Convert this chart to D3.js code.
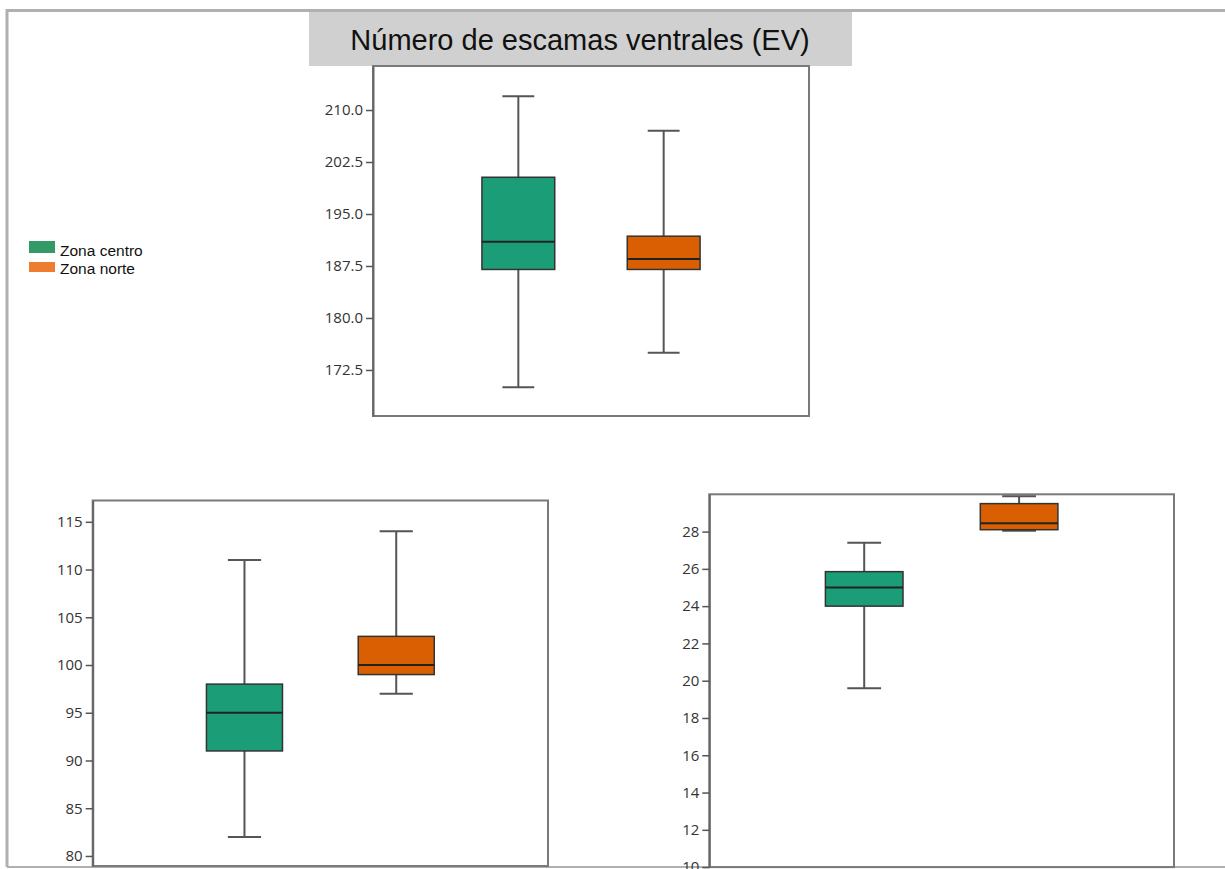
<!DOCTYPE html>
<html><head><meta charset="utf-8">
<script src="https://cdn.jsdelivr.net/npm/d3@7"></script>
<style>html,body{margin:0;padding:0;background:#fff;overflow:hidden}</style>
</head><body>
<svg id="chart" width="1225" height="869"></svg>
<script>
// ---- data ----
const categories = ["Zona centro", "Zona norte"];
const title = "Número de escamas ventrales (EV)";

// panel 1: EV
const evMin    = [170, 175];
const evQ1     = [187, 187];
const evMedian = [191, 188.5];
const evQ3     = [200.3, 191.8];
const evMax    = [212, 207];
const evTicks  = [172.5, 180.0, 187.5, 195.0, 202.5, 210.0];

// panel 2 (bottom left)
const p2Min    = [82, 97];
const p2Q1     = [91, 99];
const p2Median = [95, 100];
const p2Q3     = [98, 103];
const p2Max    = [111, 114];
const p2Ticks  = [80, 85, 90, 95, 100, 105, 110, 115];

// panel 3 (bottom right)
const p3Min    = [19.6, 28.05];
const p3Q1     = [24, 28.1];
const p3Median = [25, 28.45];
const p3Q3     = [25.85, 29.5];
const p3Max    = [27.4, 29.9];
const p3Ticks  = [10, 12, 14, 16, 18, 20, 22, 24, 26, 28];

// ---- styling / layout ----
const boxColors = ["#1b9e77", "#d95f02"];
const legendColors = ["#339966", "#ED7D31"];

const svg = d3.select("#chart");

// outer frame
svg.append("line").attr("x1", 7).attr("x2", 1225).attr("y1", 10.5).attr("y2", 10.5)
  .attr("stroke", "#b0b0b0").attr("stroke-width", 3);
svg.append("line").attr("x1", 7).attr("x2", 7).attr("y1", 9).attr("y2", 867)
  .attr("stroke", "#b0b0b0").attr("stroke-width", 3);
svg.append("line").attr("x1", 7).attr("x2", 1225).attr("y1", 867).attr("y2", 867)
  .attr("stroke", "#b0b0b0").attr("stroke-width", 2);

// title box
svg.append("rect").attr("x", 309).attr("y", 12).attr("width", 543).attr("height", 54)
  .attr("fill", "#d0d0d0");
svg.append("text").attr("x", 580).attr("y", 50).attr("text-anchor", "middle")
  .attr("font-family", "Liberation Sans, Arial, sans-serif").attr("font-size", 29)
  .attr("fill", "#111").text(title);

// legend
categories.forEach((c, i) => {
  svg.append("rect").attr("x", 29).attr("y", 241 + i * 21).attr("width", 26).attr("height", i === 0 ? 12 : 10)
    .attr("fill", legendColors[i]);
  svg.append("text").attr("x", 60).attr("y", 256 + i * 18)
    .attr("font-family", "Liberation Sans, Arial, sans-serif").attr("font-size", 15.5)
    .attr("fill", "#111").text(c);
});

function panel(cfg) {
  const {x0, x1, y0, y1, domain, ticks, fmt, mins, q1s, meds, q3s, maxs} = cfg;
  const g = svg.append("g");
  const y = d3.scaleLinear().domain(domain).range([y1, y0]);
  const x = d3.scalePoint().domain(categories).range([x0, x1]).padding(1);
  const w = x1 - x0;
  const bw = w * 0.167;
  const cw = bw * 0.41;

  const clipId = "clip" + Math.round(x0);
  svg.append("clipPath").attr("id", clipId).append("rect")
    .attr("x", x0).attr("y", y0).attr("width", w).attr("height", y1 - y0);

  // frame
  g.append("rect").attr("x", x0).attr("y", y0).attr("width", w).attr("height", y1 - y0)
    .attr("fill", "none").attr("stroke", "#7a7a7a").attr("stroke-width", 2);

  // axis
  const ax = g.append("g").attr("transform", `translate(${x0},0)`)
    .call(d3.axisLeft(y).tickValues(ticks).tickFormat(d3.format(fmt)).tickSize(7).tickSizeOuter(0).tickPadding(3));
  ax.select(".domain").attr("stroke", "#666").attr("stroke-width", 2);
  ax.selectAll(".tick line").attr("stroke", "#555").attr("stroke-width", 1.5);
  ax.selectAll(".tick text").attr("font-family", "Open Sans, sans-serif").attr("font-size", 15)
    .attr("fill", "#333");

  const bg = g.append("g").attr("clip-path", `url(#${clipId})`);
  categories.forEach((c, i) => {
    const cx = x(c);
    // whiskers
    bg.append("line").attr("x1", cx).attr("x2", cx).attr("y1", y(maxs[i])).attr("y2", y(q3s[i]))
      .attr("stroke", "#555").attr("stroke-width", 2);
    bg.append("line").attr("x1", cx).attr("x2", cx).attr("y1", y(q1s[i])).attr("y2", y(mins[i]))
      .attr("stroke", "#555").attr("stroke-width", 2);
    // caps
    [maxs[i], mins[i]].forEach(v => {
      bg.append("line").attr("x1", cx - cw / 2 - 1).attr("x2", cx + cw / 2 + 1).attr("y1", y(v)).attr("y2", y(v))
        .attr("stroke", "#555").attr("stroke-width", 2);
    });
    // box
    bg.append("rect").attr("x", cx - bw / 2).attr("y", y(q3s[i])).attr("width", bw)
      .attr("height", y(q1s[i]) - y(q3s[i]))
      .attr("fill", boxColors[i]).attr("stroke", "#333").attr("stroke-width", 1.5);
    // median
    bg.append("line").attr("x1", cx - bw / 2).attr("x2", cx + bw / 2).attr("y1", y(meds[i])).attr("y2", y(meds[i]))
      .attr("stroke", "#222").attr("stroke-width", 2);
  });
}

panel({x0: 373, x1: 809, y0: 66, y1: 416, domain: [165.86, 216.35], ticks: evTicks, fmt: ".1f",
  mins: evMin, q1s: evQ1, meds: evMedian, q3s: evQ3, maxs: evMax});
panel({x0: 92.7, x1: 548, y0: 500.5, y1: 866, domain: [78.95, 117.23], ticks: p2Ticks, fmt: "d",
  mins: p2Min, q1s: p2Q1, meds: p2Median, q3s: p2Q3, maxs: p2Max});
panel({x0: 709.3, x1: 1174, y0: 494.3, y1: 867.1, domain: [10, 30], ticks: p3Ticks, fmt: "d",
  mins: p3Min, q1s: p3Q1, meds: p3Median, q3s: p3Q3, maxs: p3Max});
</script>
</body></html>
